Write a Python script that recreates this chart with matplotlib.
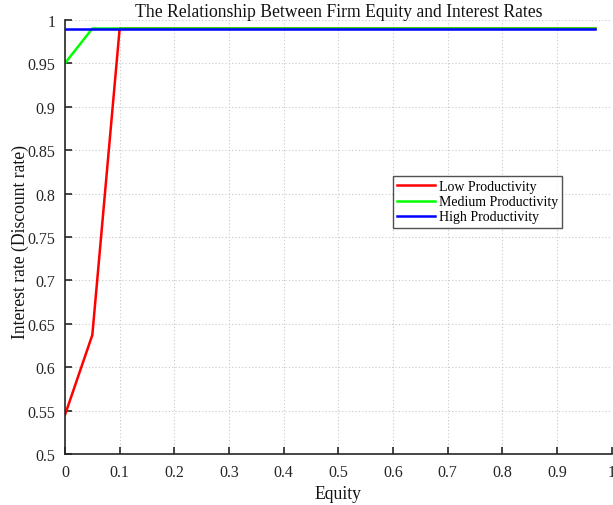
import matplotlib.pyplot as plt
import numpy as np

plt.rcParams['font.family'] = ['Liberation Serif', 'DejaVu Serif']

# Equity grid points and the interest rate for each productivity level
low_equity = [0.0, 0.05, 0.1, 0.97]
low_rate = [0.545, 0.637, 0.99, 0.99]
med_equity = [0.0, 0.05, 0.97]
med_rate = [0.95, 0.99, 0.99]
high_equity = [0.0, 0.97]
high_rate = [0.99, 0.99]

xticks = np.round(np.arange(0, 1.01, 0.1), 1)
yticks = np.round(np.arange(0.5, 1.001, 0.05), 2)

fig = plt.figure(figsize=(6.13, 5.06), dpi=100)
ax = fig.add_axes([0.106, 0.1008, 0.892, 0.858])

ax.plot(low_equity, low_rate, color=(1, 0, 0), lw=1.8, label='Low Productivity')
ax.plot(med_equity, med_rate, color=(0, 1, 0), lw=1.8, label='Medium Productivity')
ax.plot(high_equity, high_rate, color=(0, 0, 1), lw=1.8, label='High Productivity')

ax.set_xlim(0, 1)
ax.set_ylim(0.5, 1)
ax.set_xticks(xticks)
ax.set_xticklabels(['0'] + [f'{v:g}' for v in xticks[1:]])
ax.set_yticks(yticks)
ax.set_yticklabels([f'{v:g}' for v in yticks])
ax.tick_params(direction='in', length=5, width=1.2, labelsize=11.5,
               colors='#262626', pad=7)
ax.grid(True, linestyle=(0, (1, 2)), color='#c8c8c8', lw=0.8)

for side in ['top', 'right']:
    ax.spines[side].set_visible(False)
for side in ['left', 'bottom']:
    ax.spines[side].set_color('#262626')
    ax.spines[side].set_linewidth(1.2)

ax.set_title('The Relationship Between Firm Equity and Interest Rates',
             fontsize=12.7, color='#111111', pad=1.5)
ax.set_xlabel('Equity', fontsize=12.7, color='#111111', labelpad=4)
ax.set_ylabel('Interest rate (Discount rate)', fontsize=12.7, color='#111111')
ax.yaxis.set_label_coords(-0.065, 0.49)

leg = ax.legend(loc='upper left', bbox_to_anchor=(0.6, 0.64), fontsize=10,
                frameon=True, fancybox=False, handlelength=2.7,
                handletextpad=0.3, borderpad=0.3, labelspacing=0.15,
                borderaxespad=0)
leg.get_frame().set_edgecolor('#262626')
leg.get_frame().set_linewidth(1.0)

fig.savefig('out.png', dpi=100)
